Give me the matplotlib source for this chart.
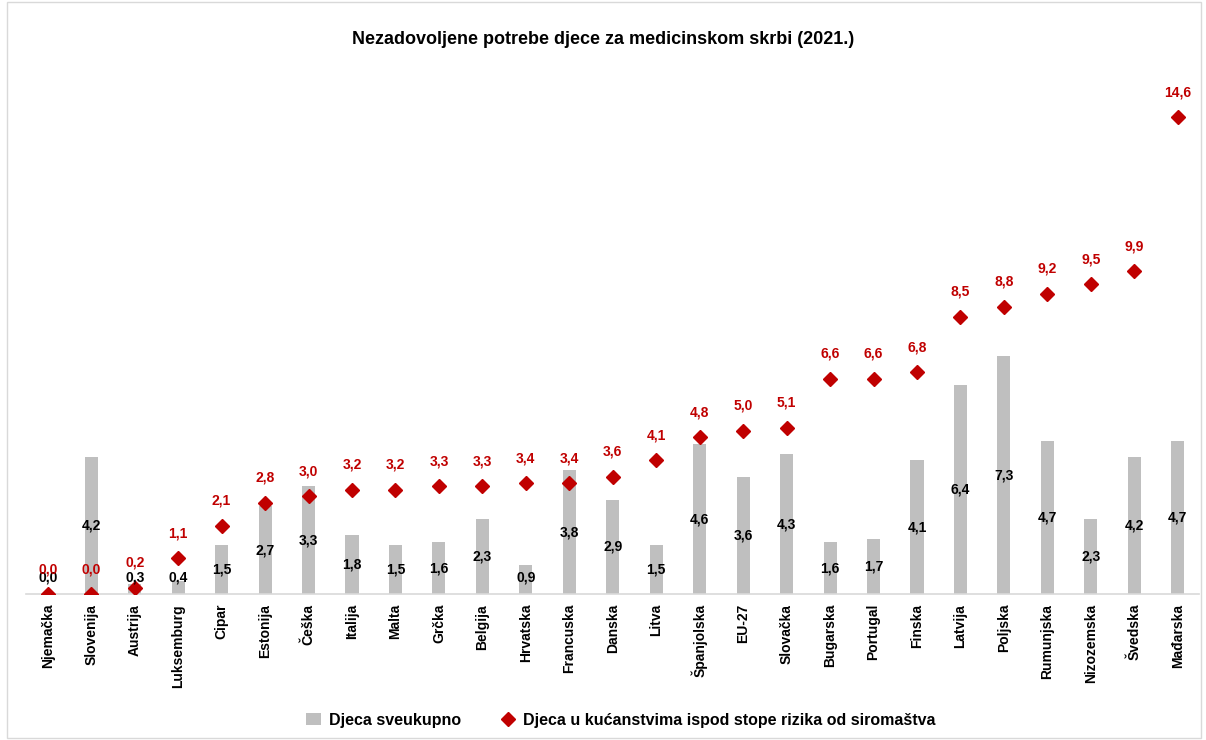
import matplotlib.pyplot as plt
import numpy as np
from matplotlib.patches import Rectangle

plt.rcParams["font.family"] = ["Liberation Sans", "DejaVu Sans"]

countries = [
    "Njemačka", "Slovenija", "Austrija", "Luksemburg", "Cipar", "Estonija", "Češka",
    "Italija", "Malta", "Grčka", "Belgija", "Hrvatska", "Francuska", "Danska", "Litva",
    "Španjolska", "EU-27", "Slovačka", "Bugarska", "Portugal", "Finska", "Latvija",
    "Poljska", "Rumunjska", "Nizozemska", "Švedska", "Mađarska",
]
total = [0.0, 4.2, 0.3, 0.4, 1.5, 2.7, 3.3, 1.8, 1.5, 1.6, 2.3, 0.9, 3.8, 2.9, 1.5,
         4.6, 3.6, 4.3, 1.6, 1.7, 4.1, 6.4, 7.3, 4.7, 2.3, 4.2, 4.7]
poverty = [0.0, 0.0, 0.2, 1.1, 2.1, 2.8, 3.0, 3.2, 3.2, 3.3, 3.3, 3.4, 3.4, 3.6, 4.1,
           4.8, 5.0, 5.1, 6.6, 6.6, 6.8, 8.5, 8.8, 9.2, 9.5, 9.9, 14.6]

def fmt(v):
    return f"{v:.1f}".replace(".", ",")

fig = plt.figure(figsize=(12.06, 7.4), dpi=100)
ax = fig.add_axes([0.0216, 0.197, 0.973, 0.706])

x = np.arange(len(countries))
bars = ax.bar(x, total, width=0.3, color="#bfbfbf", label="Djeca sveukupno", zorder=2)
pts, = ax.plot(x, poverty, linestyle="none", marker="D", markersize=7.5, color="#c00000",
               label="Djeca u kućanstvima ispod stope rizika od siromaštva", zorder=3)

for xi, v in zip(x, total):
    ax.text(xi, max(v / 2, 0.52), fmt(v), ha="center", va="center",
            fontsize=10, fontweight="bold", color="black", zorder=4)
for xi, v in zip(x, poverty):
    ax.text(xi, v + 0.55, fmt(v), ha="center", va="bottom",
            fontsize=10, fontweight="bold", color="#c00000", zorder=4)

ax.set_xlim(-0.5, len(countries) - 0.5)
ax.set_ylim(0, 16)
ax.set_xticks(x)
ax.set_xticklabels(countries, rotation=90, fontsize=10, fontweight="bold")
ax.tick_params(axis="x", length=0, pad=7)
ax.set_yticks([])
for s in ["top", "right", "left"]:
    ax.spines[s].set_visible(False)
ax.spines["bottom"].set_color("#d9d9d9")
ax.spines["bottom"].set_linewidth(1.2)

fig.text(0.5, 0.947, "Nezadovoljene potrebe djece za medicinskom skrbi (2021.)",
         ha="center", va="center", fontsize=13, fontweight="bold")

fig.legend(handles=[bars, pts], loc="center", bbox_to_anchor=(0.515, 0.027), ncol=2,
           frameon=False, prop={"size": 11.5, "weight": "bold"}, handlelength=0.9,
           columnspacing=2.5, handletextpad=0.5)

fig.patches.append(Rectangle((0.006, 0.003), 0.99, 0.994, transform=fig.transFigure,
                             fill=False, edgecolor="#d9d9d9", linewidth=1))

fig.savefig("out.png", dpi=100)
